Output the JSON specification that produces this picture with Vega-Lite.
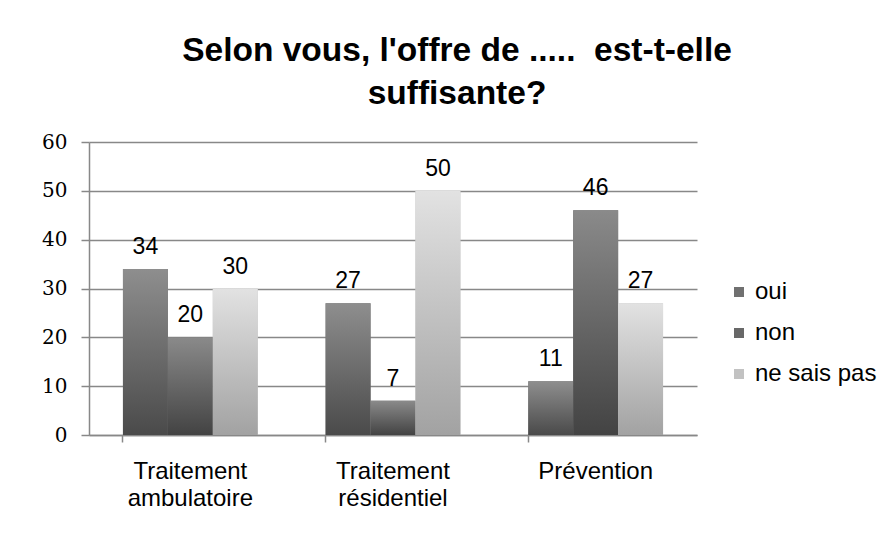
{
  "$schema": "https://vega.github.io/schema/vega-lite/v6.json",
  "width": 608,
  "height": 293,
  "autosize": {"type": "none"},
  "padding": {"left": 89, "top": 142, "right": 193, "bottom": 103},
  "background": "white",
  "config": {"view": {"stroke": null}},
  "title": {
    "text": ["Selon vous, l'offre de .....\u00a0 est-t-elle", "suffisante?"],
    "font": "Liberation Sans",
    "fontSize": 33.5,
    "fontWeight": "bold",
    "color": "#000000",
    "anchor": "middle",
    "dx": 64,
    "offset": 21,
    "lineHeight": 43
  },
  "data": {
    "values": [
      {"cat": "Traitement ambulatoire", "rep": "oui", "value": 34},
      {"cat": "Traitement ambulatoire", "rep": "non", "value": 20},
      {"cat": "Traitement ambulatoire", "rep": "ne sais pas", "value": 30},
      {"cat": "Traitement résidentiel", "rep": "oui", "value": 27},
      {"cat": "Traitement résidentiel", "rep": "non", "value": 7},
      {"cat": "Traitement résidentiel", "rep": "ne sais pas", "value": 50},
      {"cat": "Prévention", "rep": "oui", "value": 11},
      {"cat": "Prévention", "rep": "non", "value": 46},
      {"cat": "Prévention", "rep": "ne sais pas", "value": 27}
    ]
  },
  "encoding": {
    "x": {
      "field": "cat",
      "type": "nominal",
      "sort": ["Traitement ambulatoire", "Traitement résidentiel", "Prévention"],
      "scale": {"paddingInner": 0.335, "paddingOuter": 0.1675},
      "axis": {
        "title": null,
        "labelAngle": 0,
        "labelFont": "Liberation Sans",
        "labelFontSize": 24,
        "labelColor": "#000000",
        "labelExpr": "split(datum.label, ' ')",
        "labelLineHeight": 27,
        "labelPadding": 17,
        "bandPosition": 0,
        "domainColor": "#888888",
        "domainWidth": 1.5,
        "tickColor": "#888888",
        "tickWidth": 1.5,
        "tickSize": 7,
        "grid": false
      }
    },
    "xOffset": {"field": "rep", "type": "nominal", "sort": ["oui", "non", "ne sais pas"]},
    "y": {
      "field": "value",
      "type": "quantitative",
      "scale": {"domain": [0, 60]},
      "axis": {
        "title": null,
        "values": [0, 10, 20, 30, 40, 50, 60],
        "labelFont": "DejaVu Serif",
        "labelFontSize": 20,
        "labelColor": "#000000",
        "labelPadding": 14,
        "domainColor": "#888888",
        "domainWidth": 1.5,
        "tickColor": "#888888",
        "tickWidth": 1.5,
        "tickSize": 8,
        "grid": true,
        "gridColor": "#888888",
        "gridWidth": 1.5
      }
    }
  },
  "layer": [
    {
      "mark": {"type": "bar"},
      "encoding": {
        "color": {
          "field": "rep",
          "type": "nominal",
          "sort": ["oui", "non", "ne sais pas"],
          "scale": {"domain": ["oui", "non", "ne sais pas"], "range": ["#707070", "#686868", "#c2c2c2"]},
          "legend": {
            "title": null,
            "orient": "none",
            "legendX": 638,
            "legendY": 138,
            "padding": 0,
            "symbolType": "square",
            "symbolSize": 100,
            "symbolStrokeWidth": 0,
            "labelFont": "Liberation Sans",
            "labelFontSize": 24,
            "labelColor": "#000000",
            "labelOffset": 4,
            "rowPadding": 17
          }
        }
      }
    },
    {
      "transform": [{"filter": "datum.rep === 'oui'"}],
      "mark": {
        "type": "bar",
        "fill": {"gradient": "linear", "x1": 0, "y1": 0, "x2": 0, "y2": 1,
          "stops": [{"offset": 0, "color": "#8e8e8e"}, {"offset": 1, "color": "#4a4a4a"}]}
      }
    },
    {
      "transform": [{"filter": "datum.rep === 'non'"}],
      "mark": {
        "type": "bar",
        "fill": {"gradient": "linear", "x1": 0, "y1": 0, "x2": 0, "y2": 1,
          "stops": [{"offset": 0, "color": "#8a8a8a"}, {"offset": 1, "color": "#434343"}]}
      }
    },
    {
      "transform": [{"filter": "datum.rep === 'ne sais pas'"}],
      "mark": {
        "type": "bar",
        "fill": {"gradient": "linear", "x1": 0, "y1": 0, "x2": 0, "y2": 1,
          "stops": [{"offset": 0, "color": "#e2e2e2"}, {"offset": 1, "color": "#a2a2a2"}]}
      }
    },
    {
      "mark": {"type": "text", "baseline": "alphabetic", "dy": -15, "font": "Liberation Sans", "fontSize": 23, "color": "#000000"},
      "encoding": {"text": {"field": "value", "type": "quantitative"}}
    }
  ]
}
